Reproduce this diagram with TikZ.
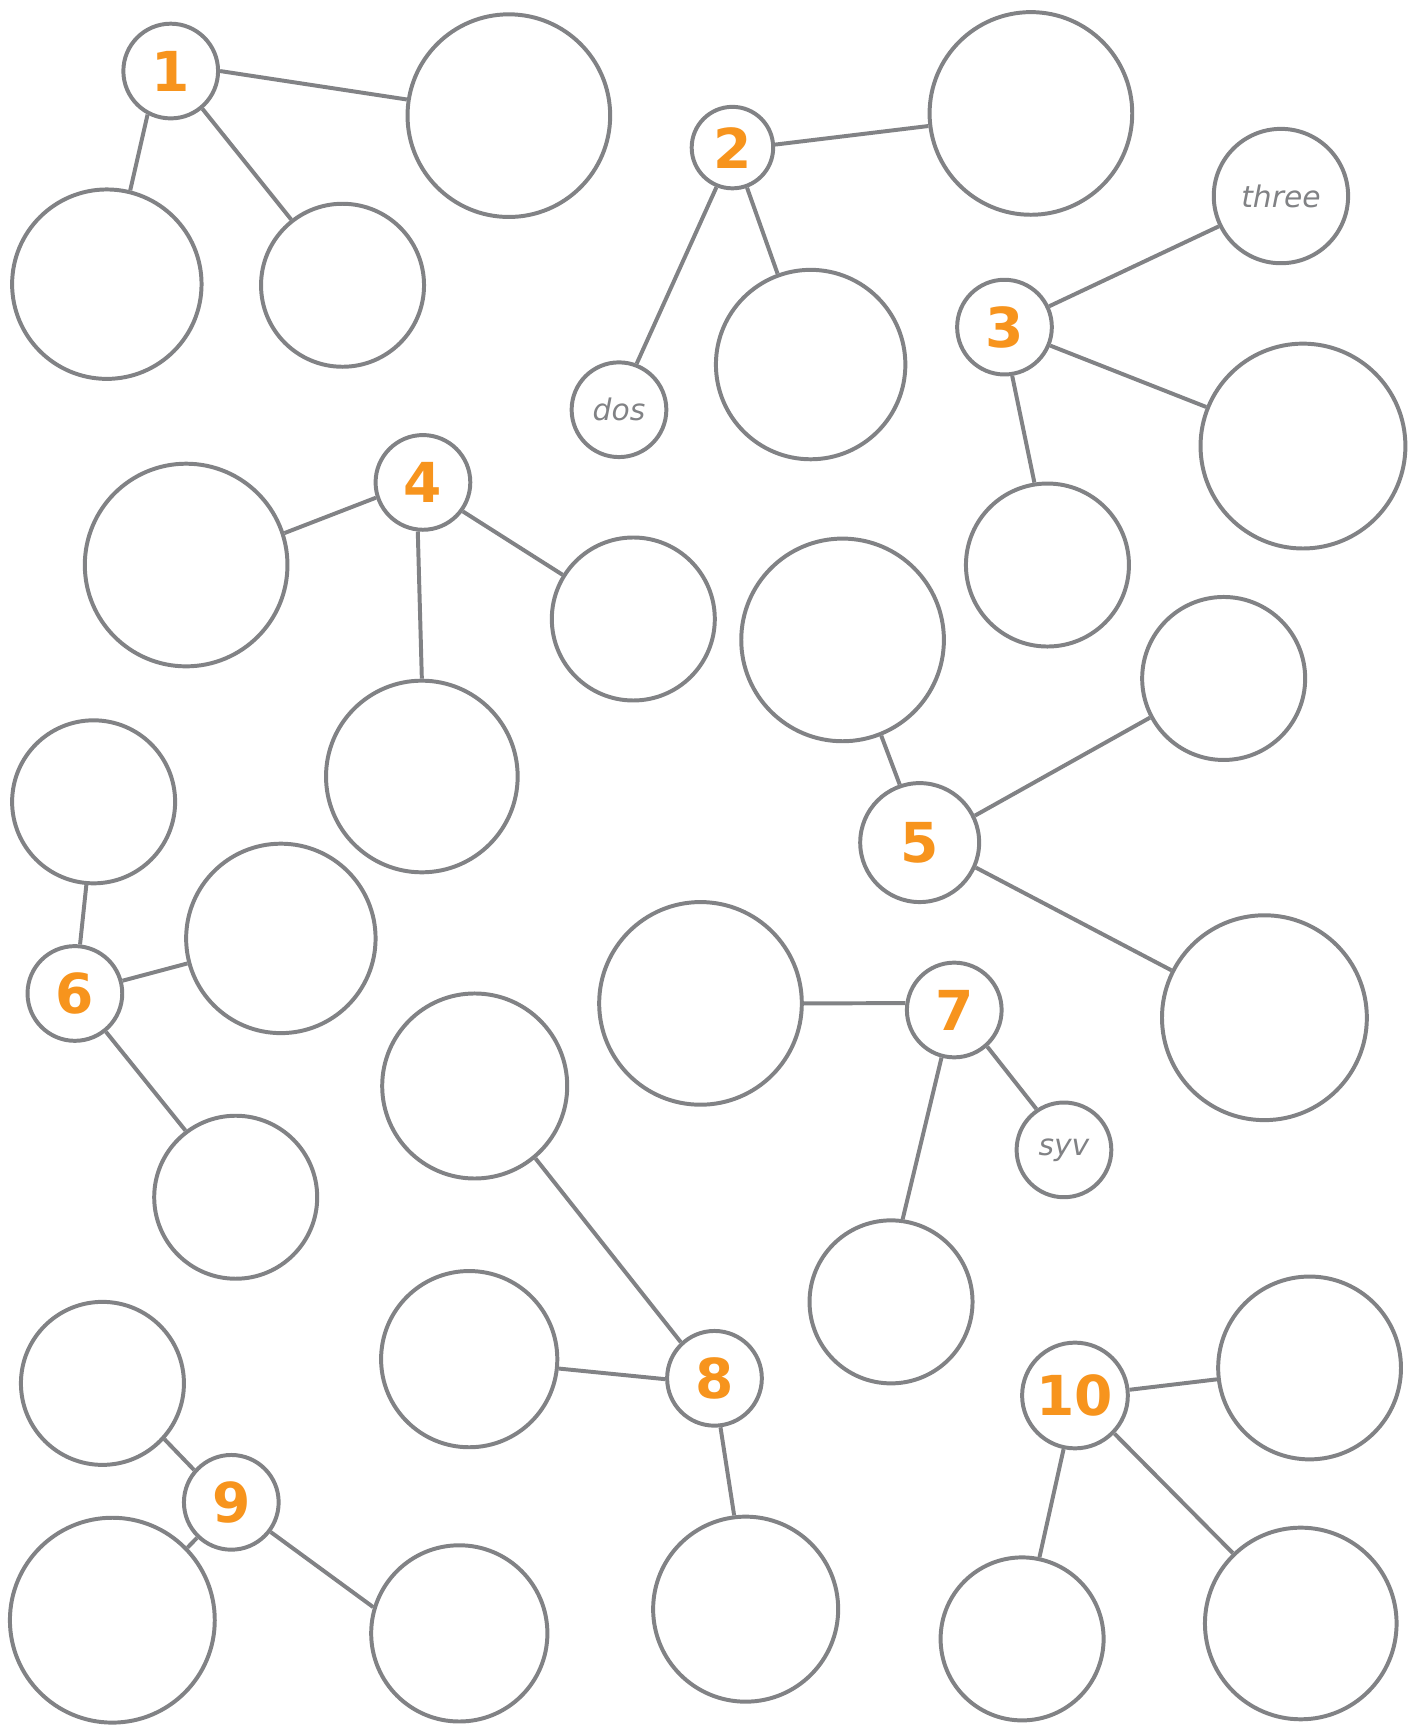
\documentclass[tikz,border=0pt]{standalone}
\usepackage{fontspec}
\setmainfont{DejaVu Sans}
\definecolor{ringgray}{RGB}{129,130,133}
\definecolor{numorange}{RGB}{247,148,29}
\tikzset{
  ring/.style={circle, draw=ringgray, line width=3.6pt, inner sep=0pt, fill=white},
  hub/.style={ring, text=numorange, font=\fontsize{50}{50}\selectfont\bfseries},
  leaf/.style={ring, text=ringgray, font=\fontsize{27}{27}\selectfont\itshape},
  link/.style={draw=ringgray, line width=3.6pt}
}
\begin{document}
\begin{tikzpicture}[x=1pt,y=-1pt]
\useasboundingbox (0,0) rectangle (1282,1568);
% group 1
\node[hub, minimum size=86pt] (n1) at (155,64.5) {1};
\node[ring, minimum size=184pt] (a1) at (462,105) {};
\node[ring, minimum size=172pt] (b1) at (97,258) {};
\node[ring, minimum size=148pt] (c1) at (311,259) {};
% group 2
\node[hub, minimum size=74pt] (n2) at (665,134) {2};
\node[ring, minimum size=184pt] (a2) at (936,103) {};
\node[ring, minimum size=172pt] (b2) at (736,331) {};
\node[leaf, minimum size=86pt] (d2) at (562,372) {dos};
% group 3
\node[hub, minimum size=86pt] (n3) at (912,297) {3};
\node[leaf, minimum size=122pt] (t3) at (1163,178) {three};
\node[ring, minimum size=186pt] (a3) at (1183,405) {};
\node[ring, minimum size=148pt] (b3) at (951,513) {};
% group 4
\node[hub, minimum size=86pt] (n4) at (384,438) {4};
\node[ring, minimum size=184pt] (a4) at (169,513) {};
\node[ring, minimum size=148pt] (b4) at (575,562) {};
\node[ring, minimum size=174pt] (c4) at (383,705) {};
% group 5
\node[hub, minimum size=108pt] (n5) at (835,765) {5};
\node[ring, minimum size=184pt] (a5) at (765,581) {};
\node[ring, minimum size=148pt] (b5) at (1111,616) {};
\node[ring, minimum size=186pt] (c5) at (1148,924) {};
% group 6
\node[hub, minimum size=86pt] (n6) at (68,902) {6};
\node[ring, minimum size=148pt] (a6) at (85,728) {};
\node[ring, minimum size=172pt] (b6) at (255,852) {};
\node[ring, minimum size=148pt] (c6) at (214,1087) {};
% group 7
\node[hub, minimum size=86pt] (n7) at (866.4,917) {7};
\node[ring, minimum size=184pt] (a7) at (636,911) {};
\node[leaf, minimum size=86pt] (s7) at (966,1044) {syv};
\node[ring, minimum size=148pt] (b7) at (809,1182) {};
% group 8
\node[hub, minimum size=86pt] (n8) at (648.7,1251.4) {8};
\node[ring, minimum size=168pt] (a8) at (431,986) {};
\node[ring, minimum size=160pt] (b8) at (426,1234) {};
\node[ring, minimum size=168pt] (c8) at (677,1461) {};
% group 9
\node[hub, minimum size=86pt] (n9) at (210,1364) {9};
\node[ring, minimum size=148pt] (a9) at (93,1256) {};
\node[ring, minimum size=186pt] (b9) at (102,1471) {};
\node[ring, minimum size=160pt] (c9) at (417,1483) {};
% group 10
\node[hub, minimum size=96pt] (n10) at (976,1267) {10};
\node[ring, minimum size=166pt] (a10) at (1189,1242) {};
\node[ring, minimum size=148pt] (b10) at (928,1488) {};
\node[ring, minimum size=174pt] (c10) at (1181,1474) {};
% links
\path[link] (n1.0) -- (a1.171.7) (n1.242) -- (b1.76.2) (n1.-50.7) -- (c1.128.8);
\path[link] (n2.4.5) -- (a2.187.4) (n2.-70) -- (b2.110) (n2.-112) -- (d2.69);
\path[link] (n3.25) -- (t3.206) (n3.-22) -- (a3.158) (n3.-81) -- (b3.99);
\path[link] (n4.198) -- (a4.18.6) (n4.-36.9) -- (b4.148) (n4.264) -- (c4.90.7);
\path[link] (n5.109) -- (a5.-68.5) (n5.26) -- (b5.208.6) (n5.-24.7) -- (c5.153.4);
\path[link] (n6.84.7) -- (a6.-95.3) (n6.15) -- (b6.195) (n6.-51) -- (c6.127.5);
\path[link] (n7.172) -- (a7.0) (n7.-48) -- (s7.124) (n7.255) -- (b7.82.6);
\path[link] (n8.133.5) -- (a8.-50.9) (n8.181) -- (b8.-6.6) (n8.-83.5) -- (c8.97.6);
\path[link] (n9.139.3) -- (a9.-42.9) (n9.226) -- (b9.44.4) (n9.-37.3) -- (c9.163.7);
\path[link] (n10.6) -- (a10.187) (n10.258) -- (b10.78) (n10.-44) -- (c10.134);
\end{tikzpicture}
\end{document}
